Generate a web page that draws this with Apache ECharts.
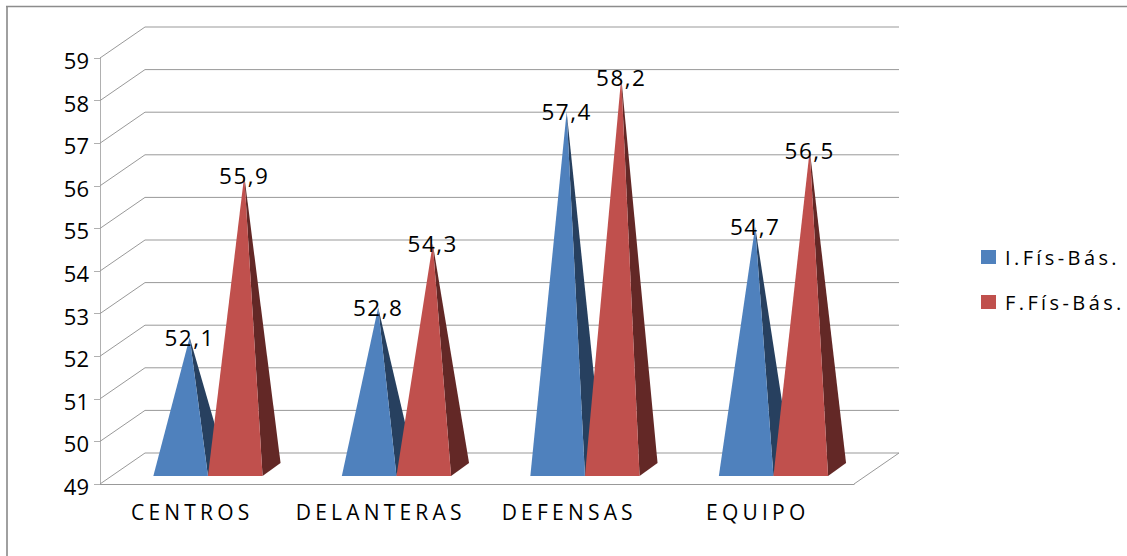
<!DOCTYPE html>
<html>
<head>
<meta charset="utf-8">
<script src="https://cdn.jsdelivr.net/npm/echarts@6/dist/echarts.min.js"></script>
<style>
  html, body { margin: 0; padding: 0; background: #fff; }
  #chart { width: 1127px; height: 556px; }
  /* tracking for each text role, keyed on its font size */
  #chart text[style*="21px"] { letter-spacing: 4.2px; }
  #chart text[style*="20px"] { letter-spacing: 3.4px; }
  #chart text[style*="22.5px"] { letter-spacing: 1.5px; }
  /* value-axis numbers sit slightly below their ticks */
  #chart text[style*="22px"] { translate: 0 2px; }
</style>
</head>
<body>
<div id="chart"></div>
<script>
const categories = ['CENTROS', 'DELANTERAS', 'DEFENSAS', 'EQUIPO'];
const initialValues = [52.1, 52.8, 57.4, 54.7];
const finalValues = [55.9, 54.3, 58.2, 56.5];
const wallTicks = [49, 50, 51, 52, 53, 54, 55, 56, 57, 58, 59];

const FONT = '"Open Sans", "Noto Sans", sans-serif';
const DEPTH_X = 45, DEPTH_Y = 31;     // offset of the back wall from the front plane
const BASE_W = 54.6;                  // pyramid base width
const BASE_DX = 18, BASE_DY = 13;     // receding edge of the base
const FRONT_DX = 13.7, FRONT_DY = 8;  // front of the base, measured in from the axis

// One pyramid: lit front face, shaded right face, value on the apex.
function pyramidSeries(name, values, slot, front, side) {
  return {
    name, type: 'custom', coordinateSystem: 'cartesian2d', z: 3 + slot,
    itemStyle: { color: front },
    data: values.map((v, i) => [i, v]),
    renderItem(params, api) {
      const top = api.coord([api.value(0), api.value(1)]);
      const floor = api.coord([api.value(0), 49]);
      const left = top[0] + FRONT_DX + (slot - 1) * BASE_W;
      const right = left + BASE_W;
      const baseY = floor[1] - FRONT_DY;
      const apex = [(left + right) / 2 + BASE_DX / 2, top[1] - FRONT_DY - BASE_DY / 2];
      const label = api.value(1).toFixed(1).replace('.', ',');
      return {
        type: 'group',
        children: [
          { type: 'polygon', shape: { points: [[right, baseY], [right + BASE_DX, baseY - BASE_DY], apex] },
            style: { fill: side } },
          { type: 'polygon', shape: { points: [[left, baseY], [right, baseY], apex] },
            style: { fill: front } },
          { type: 'text', z2: 50,
            style: { text: label, x: apex[0], y: apex[1], align: 'center', verticalAlign: 'middle',
                     fontSize: 22.5, fontFamily: FONT, fill: '#000' } }
        ]
      };
    }
  };
}

// Back-wall gridlines with their diagonals down the side wall; the lowest one closes the floor.
const wallSeries = {
  type: 'custom', coordinateSystem: 'cartesian2d', silent: true, z: 1,
  encode: { x: 0, y: 1 }, legendHoverLink: false,
  data: wallTicks.map(v => [0, v]),
  renderItem(params, api) {
    const c = params.coordSys;
    const y = api.coord([0, api.value(1)])[1];
    const pts = [[c.x, y], [c.x + DEPTH_X, y - DEPTH_Y], [c.x + c.width + DEPTH_X, y - DEPTH_Y]];
    if (api.value(1) === wallTicks[0]) pts.push([c.x + c.width, y]);
    return { type: 'polyline', shape: { points: pts },
             style: { fill: 'none', stroke: '#999999', lineWidth: 1 } };
  }
};

const chart = echarts.init(document.getElementById('chart'), null, { renderer: 'svg' });
chart.setOption({
  animation: false,
  backgroundColor: '#fff',
  grid: { left: 100, right: 273, top: 58, bottom: 72 },
  legend: {
    orient: 'vertical', left: 981, top: 247, padding: 0, itemWidth: 15, itemHeight: 14, itemGap: 25, icon: 'rect',
    textStyle: { fontSize: 20, fontFamily: FONT, color: '#000', padding: [0, 0, 0, 4] },
    data: ['I.Fís-Bás.', 'F.Fís-Bás.'], selectedMode: false
  },
  xAxis: {
    type: 'category', data: categories,
    axisLine: { lineStyle: { color: '#999999', width: 1 } },
    axisTick: { alignWithLabel: false, length: 6, lineStyle: { color: '#b0b0b0' } },
    axisLabel: { fontSize: 21, fontFamily: FONT, color: '#000', margin: 17, padding: [0, 4, 0, 0] },
    splitLine: { show: false }
  },
  yAxis: {
    type: 'value', min: 49, max: 59, interval: 1,
    axisLine: { show: true, lineStyle: { color: '#b0b0b0', width: 1 } },
    axisTick: { show: true, length: 6, lineStyle: { color: '#b0b0b0' } },
    axisLabel: { fontSize: 22, fontFamily: FONT, color: '#000', margin: 11 },
    splitLine: { show: false }
  },
  graphic: [
    { type: 'polyline', silent: true,
      shape: { points: [[7, 556], [7, 6]] },
      style: { fill: 'none', stroke: '#a0a0a0', lineWidth: 2 } },
    { type: 'polyline', silent: true,
      shape: { points: [[6, 6.5], [1127, 6.5]] },
      style: { fill: 'none', stroke: '#8c8c8c', lineWidth: 1.5 } }
  ],
  series: [
    wallSeries,
    pyramidSeries('I.Fís-Bás.', initialValues, 0, '#4F81BD', '#27405F'),
    pyramidSeries('F.Fís-Bás.', finalValues, 1, '#C0504D', '#632826')
  ]
});
</script>
</body>
</html>
